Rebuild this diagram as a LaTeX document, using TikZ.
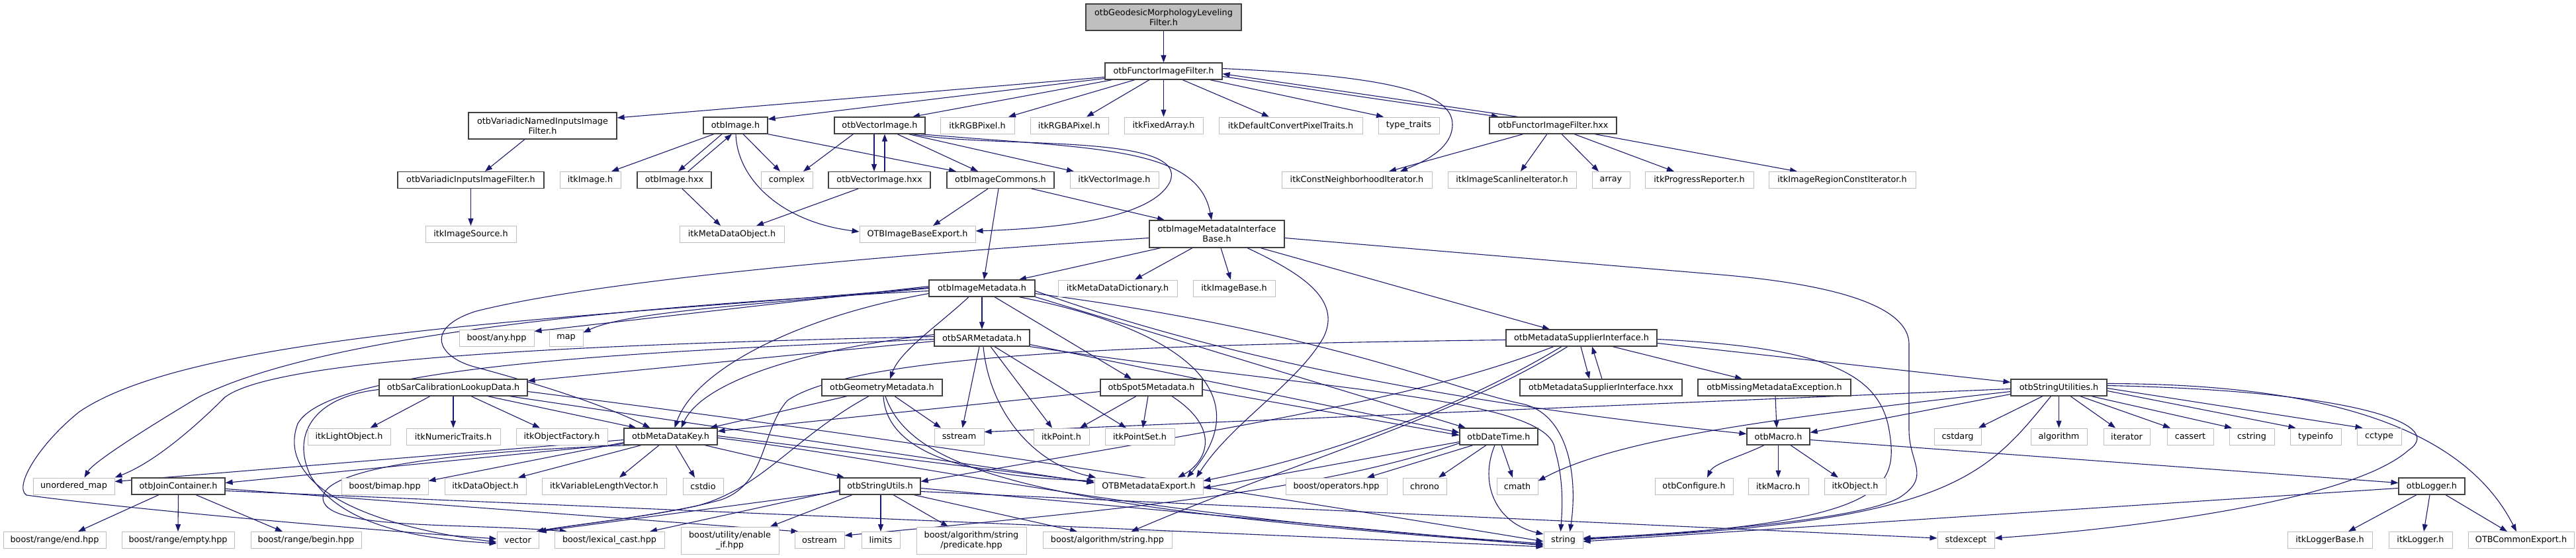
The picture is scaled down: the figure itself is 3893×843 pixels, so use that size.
\documentclass[tikz,border=0pt]{standalone}
\usepackage{fontspec}
\setmainfont{DejaVu Sans}
\usetikzlibrary{arrows.meta}
\definecolor{edgec}{HTML}{191970}
\definecolor{docb}{HTML}{404040}
\definecolor{extb}{HTML}{BFBFBF}
\definecolor{rootf}{HTML}{BFBFBF}
\pgfdeclarelayer{bg}
\pgfsetlayers{bg,main}
\newcommand{\Edn}[4]{\draw[edge] ([xshift=#2pt]#1.south) -- ([xshift=#4pt]#3.north);}
\begin{document}
\begin{tikzpicture}[x=1pt,y=-1pt,
 box/.style={rectangle, inner sep=0pt, minimum height=25pt, align=center, font=\fontsize{12.8}{15}\selectfont},
 doc/.style={box, draw=docb, line width=1.2pt, fill=white},
 ext/.style={box, draw=extb, line width=1pt, fill=white},
 rootbox/.style={box, draw=docb, line width=1.2pt, fill=rootf},
 edge/.style={draw=edgec, line width=1.1pt, -{Triangle[length=11pt,width=8pt]}}]
\useasboundingbox (0,0) rectangle (3893,843);
% row 0-1
\node[rootbox, minimum width=235pt, minimum height=40pt] (root) at (1758.5,26) {otbGeodesicMorphologyLeveling\\Filter.h};
\node[doc, minimum width=177pt] (functor) at (1758.5,107.5) {otbFunctorImageFilter.h};
% row 2
\node[doc, minimum width=224pt, minimum height=40pt] (varNamed) at (820,190) {otbVariadicNamedInputsImage\\Filter.h};
\node[doc, minimum width=97pt] (otbImage) at (1111.5,189.5) {otbImage.h};
\node[doc, minimum width=137pt] (vecImage) at (1329.5,189.5) {otbVectorImage.h};
\node[ext, minimum width=112pt] (rgb) at (1477,189.5) {itkRGBPixel.h};
\node[ext, minimum width=118pt] (rgba) at (1616,189.5) {itkRGBAPixel.h};
\node[ext, minimum width=119pt] (fixed) at (1758.5,189.5) {itkFixedArray.h};
\node[ext, minimum width=217pt] (defconv) at (1950.5,189.5) {itkDefaultConvertPixelTraits.h};
\node[ext, minimum width=92pt] (typetraits) at (2129,189.5) {type\_traits};
\node[doc, minimum width=192pt] (functorhxx) at (2347,189.5) {otbFunctorImageFilter.hxx};
% row 3
\node[doc, minimum width=221pt] (varInputs) at (711.5,272) {otbVariadicInputsImageFilter.h};
\node[ext, minimum width=92pt] (itkImage) at (892,272) {itkImage.h};
\node[doc, minimum width=112pt] (imagehxx) at (1019,272) {otbImage.hxx};
\node[ext, minimum width=78pt] (complex) at (1189,272) {complex};
\node[doc, minimum width=154pt] (vechxx) at (1329,272) {otbVectorImage.hxx};
\node[doc, minimum width=162pt] (commons) at (1512,272) {otbImageCommons.h};
\node[ext, minimum width=134pt] (itkVecImage) at (1684,272) {itkVectorImage.h};
\node[ext, minimum width=227pt] (constNbh) at (2050.5,272) {itkConstNeighborhoodIterator.h};
\node[ext, minimum width=194pt] (scanline) at (2285,272) {itkImageScanlineIterator.h};
\node[ext, minimum width=57pt] (array) at (2434.5,272) {array};
\node[ext, minimum width=164pt] (progress) at (2568,272) {itkProgressReporter.h};
\node[ext, minimum width=222pt] (regionConst) at (2784,272) {itkImageRegionConstIterator.h};
% row 4
\node[ext, minimum width=137pt] (imgSource) at (711.5,354) {itkImageSource.h};
\node[ext, minimum width=158pt] (mdObject) at (1106,354) {itkMetaDataObject.h};
\node[ext, minimum width=175pt] (baseExport) at (1386.5,354) {OTBImageBaseExport.h};
\node[doc, minimum width=204pt, minimum height=41pt] (imib) at (1839,353.5) {otbImageMetadataInterface\\Base.h};
% row 5
\node[doc, minimum width=160pt] (imgMeta) at (1484,435.5) {otbImageMetadata.h};
\node[ext, minimum width=180pt] (mdDict) at (1689,435.5) {itkMetaDataDictionary.h};
\node[ext, minimum width=124pt] (imgBase) at (1865,435.5) {itkImageBase.h};
% row 6
\node[ext, minimum width=113pt] (anyhpp) at (750.5,510.5) {boost/any.hpp};
\node[ext, minimum width=51pt] (map) at (855.5,510.5) {map};
\node[doc, minimum width=144pt] (sar) at (1484,510.5) {otbSARMetadata.h};
\node[doc, minimum width=228pt] (supplier) at (2390,510.5) {otbMetadataSupplierInterface.h};
% row 7
\node[doc, minimum width=224pt] (sarCalib) at (685,585.5) {otbSarCalibrationLookupData.h};
\node[doc, minimum width=182pt] (geom) at (1333,585.5) {otbGeometryMetadata.h};
\node[doc, minimum width=154pt] (spot5) at (1740,585.5) {otbSpot5Metadata.h};
\node[doc, minimum width=245pt] (supplierhxx) at (2419.5,585.5) {otbMetadataSupplierInterface.hxx};
\node[doc, minimum width=231pt] (missing) at (2681.5,585.5) {otbMissingMetadataException.h};
\node[doc, minimum width=145pt] (strUtilities) at (3111.5,585.5) {otbStringUtilities.h};
% row 8
\node[ext, minimum width=125pt] (lightObj) at (527.5,659.5) {itkLightObject.h};
\node[ext, minimum width=142pt] (numTraits) at (685,659.5) {itkNumericTraits.h};
\node[ext, minimum width=138pt] (objFactory) at (849,659.5) {itkObjectFactory.h};
\node[doc, minimum width=141pt] (mdKey) at (1013.5,659.5) {otbMetaDataKey.h};
\node[ext, minimum width=75pt] (sstream) at (1449.5,659.5) {sstream};
\node[ext, minimum width=84pt] (point) at (1604,659.5) {itkPoint.h};
\node[ext, minimum width=105pt] (pointSet) at (1722.5,659.5) {itkPointSet.h};
\node[doc, minimum width=118pt] (dateTime) at (2265,659.5) {otbDateTime.h};
\node[doc, minimum width=95pt] (macro) at (2687.5,659.5) {otbMacro.h};
\node[ext, minimum width=71pt] (cstdarg) at (2958.5,659.5) {cstdarg};
\node[ext, minimum width=85pt] (algorithm) at (3111.5,659.5) {algorithm};
\node[ext, minimum width=70pt] (iterator) at (3214,659.5) {iterator};
\node[ext, minimum width=70pt] (cassert) at (3310,659.5) {cassert};
\node[ext, minimum width=68pt] (cstring) at (3403,659.5) {cstring};
\node[ext, minimum width=77pt] (typeinfo) at (3499.5,659.5) {typeinfo};
\node[ext, minimum width=67pt] (cctype) at (3595.5,659.5) {cctype};
% row 9
\node[ext, minimum width=123pt] (unorderedMap) at (111.5,734.5) {unordered\_map};
\node[doc, minimum width=141pt] (joinCont) at (269.5,734.5) {otbJoinContainer.h};
\node[ext, minimum width=131pt] (bimap) at (581.5,734.5) {boost/bimap.hpp};
\node[ext, minimum width=123pt] (dataObj) at (733.5,734.5) {itkDataObject.h};
\node[ext, minimum width=188pt] (varLenVec) at (913,734.5) {itkVariableLengthVector.h};
\node[ext, minimum width=61pt] (cstdio) at (1062.5,734.5) {cstdio};
\node[doc, minimum width=122pt] (strUtils) at (1330,734.5) {otbStringUtils.h};
\node[ext, minimum width=164pt] (mdExport) at (1736,734.5) {OTBMetadataExport.h};
\node[ext, minimum width=153pt] (operators) at (2019.5,734.5) {boost/operators.hpp};
\node[ext, minimum width=66pt] (chrono) at (2153,734.5) {chrono};
\node[ext, minimum width=62pt] (cmath) at (2293,734.5) {cmath};
\node[ext, minimum width=118pt] (configure) at (2560,734.5) {otbConfigure.h};
\node[ext, minimum width=91pt] (itkMacro) at (2687.5,734.5) {itkMacro.h};
\node[ext, minimum width=93pt] (itkObject) at (2803.5,734.5) {itkObject.h};
\node[doc, minimum width=100pt] (logger) at (3675,734.5) {otbLogger.h};
% row 10
\node[ext, minimum width=155pt] (rangeEnd) at (82.5,816) {boost/range/end.hpp};
\node[ext, minimum width=170pt] (rangeEmpty) at (269,816) {boost/range/empty.hpp};
\node[ext, minimum width=167pt] (rangeBegin) at (462.5,816) {boost/range/begin.hpp};
\node[ext, minimum width=63pt] (vector) at (782.5,816) {vector};
\node[ext, minimum width=166pt] (lexical) at (921,816) {boost/lexical\_cast.hpp};
\node[ext, minimum width=148pt, minimum height=41pt] (enableIf) at (1103,816.5) {boost/utility/enable\\\_if.hpp};
\node[ext, minimum width=75pt] (ostream) at (1238.5,816) {ostream};
\node[ext, minimum width=58pt] (limits) at (1331,816) {limits};
\node[ext, minimum width=166pt, minimum height=41pt] (predicate) at (1468,816.5) {boost/algorithm/string\\/predicate.hpp};
\node[ext, minimum width=195pt] (algString) at (1673.5,816) {boost/algorithm/string.hpp};
\node[ext, minimum width=59pt] (string) at (2362.5,816) {string};
\node[ext, minimum width=86pt] (stdexcept) at (2971,816) {stdexcept};
\node[ext, minimum width=128pt] (loggerBase) at (3521,816) {itkLoggerBase.h};
\node[ext, minimum width=96pt] (itkLogger) at (3658,816) {itkLogger.h};
\node[ext, minimum width=160pt] (commonExport) at (3810,816) {OTBCommonExport.h};

\begin{pgfonlayer}{bg}
% top
\Edn{root}{0}{functor}{0}
\draw[edge] ([yshift=-9pt]functor.west) -- ([yshift=12pt]varNamed.east);
\draw[edge] ([yshift=-11pt]functor.west) -- ([yshift=9.5pt]otbImage.east);
\Edn{functor}{-77.5}{vecImage}{49.5}
\Edn{functor}{-43.5}{rgb}{47}
\Edn{functor}{-21.5}{rgba}{26}
\Edn{functor}{0}{fixed}{0}
\Edn{functor}{28.5}{defconv}{-32.5}
\Edn{functor}{70}{typetraits}{-38}
\draw[edge] ([yshift=-8pt]functor.east) -- ([xshift=-82pt]functorhxx.north);
\draw[edge] ([xshift=-53pt]functorhxx.north) -- ([yshift=-4pt]functor.east);
\draw[edge] ([yshift=4pt]functor.east) .. controls (2100,115) and (2195,140) .. (2195,188) .. controls (2195,225) and (2150,245) .. ([xshift=65.5pt]constNbh.north);
% hxx
\Edn{functorhxx}{-45}{constNbh}{48.5}
\Edn{functorhxx}{-9}{scanline}{13}
\Edn{functorhxx}{13}{array}{-18.5}
\Edn{functorhxx}{32}{progress}{-38}
\Edn{functorhxx}{63}{regionConst}{-68}
% row 2 -> 3
\Edn{varNamed}{-27}{varInputs}{21.5}
\Edn{varInputs}{0}{imgSource}{0}
\Edn{otbImage}{-32.5}{itkImage}{32}
\Edn{otbImage}{-20.5}{imagehxx}{6}
\draw[edge] ([xshift=21pt]imagehxx.north) -- ([xshift=-5.5pt]otbImage.south);
\Edn{otbImage}{11.5}{complex}{-10}
\draw[edge] (otbImage.south east) -- ([xshift=-67pt]commons.north);
\draw[edge] ([xshift=0.5pt]otbImage.south) .. controls (1114,270) and (1180,335) .. ([yshift=4pt]baseExport.west);
\Edn{imagehxx}{12}{mdObject}{-17}
\Edn{vecImage}{-40}{complex}{25}
\Edn{vecImage}{-8.5}{vechxx}{-8}
\draw[edge] ([xshift=8pt]vechxx.north) -- ([xshift=7.5pt]vecImage.south);
\Edn{vecImage}{26.5}{commons}{-34}
\Edn{vecImage}{43.5}{itkVecImage}{-61}
\draw[edge] ([xshift=49.5pt]vecImage.south) .. controls (1500,225) and (1800,200) .. (1768,275) .. controls (1740,330) and (1600,345) .. ([yshift=5pt]baseExport.east);
\draw[edge] ([xshift=61.5pt]vecImage.south) .. controls (1650,225) and (1810,220) .. ([xshift=-8pt]imib.north);
\Edn{vechxx}{-32}{mdObject}{37}
\Edn{commons}{-19}{baseExport}{23.5}
\Edn{commons}{-3}{imgMeta}{3}
\Edn{commons}{47}{imib}{-79}
% imib
\Edn{imib}{-85}{imgMeta}{56}
\Edn{imib}{-37}{mdDict}{26}
\Edn{imib}{6}{imgBase}{-5}
\draw[edge] ([yshift=-6pt]imib.west) .. controls (1300,388) and (900,425) .. (720,470) .. controls (640,495) and (660,540) .. (720,555) .. controls (850,590) and (930,620) .. ([xshift=-31pt]mdKey.north);
\draw[edge] ([xshift=46pt]imib.south) .. controls (1960,410) and (2030,450) .. (2000,510) .. controls (1960,580) and (1860,640) .. ([xshift=72pt]mdExport.north);
\Edn{imib}{66}{supplier}{-48}
\draw[edge] ([yshift=-6pt]imib.east) -- (2600,415) .. controls (2800,432) and (2885,470) .. (2885,520) -- (2885,650) .. controls (2885,700) and (2920,720) .. (2870,752) .. controls (2800,790) and (2500,808) .. ([yshift=3pt]string.east);
% supplier
\Edn{supplier}{-1}{supplierhxx}{-17.5}
\draw[edge] ([xshift=1.5pt]supplierhxx.north) -- ([xshift=16pt]supplier.south);
\Edn{supplier}{47}{missing}{-48.5}
\draw[edge] ([yshift=-8pt]supplier.east) -- ([yshift=8pt]strUtilities.west);
\draw[edge] ([yshift=-2pt]supplier.east) .. controls (2750,525) and (2840,560) .. (2855,650) .. controls (2870,740) and (2850,790) .. ([yshift=1pt]string.east);
\draw[edge] ([xshift=-42pt]supplier.south) .. controls (2150,600) and (1900,640) .. ([yshift=7pt]strUtils.east);
\draw[edge] ([xshift=-30pt]supplier.south) .. controls (2200,620) and (2000,690) .. ([yshift=8pt]mdExport.east);
\draw[edge] ([xshift=-21pt]supplier.south) .. controls (2200,630) and (1950,700) .. ([xshift=36pt]algString.north);
\draw[edge] ([yshift=-3pt]supplier.west) .. controls (1800,520) and (1300,530) .. (1190,605) .. controls (1150,650) and (1160,730) .. (1090,755) .. controls (1000,780) and (880,790) .. (vector.north east);
% imgMeta
\Edn{imgMeta}{0}{sar}{0}
\draw[edge] ([xshift=-20pt]imgMeta.south) .. controls (1420,490) and (1360,530) .. ([xshift=12pt]geom.north);
\Edn{imgMeta}{19}{spot5}{-30}
\draw[edge] ([xshift=56pt]imgMeta.south) .. controls (1800,500) and (1900,600) .. ([xshift=58pt]mdExport.north);
\draw[edge] ([yshift=-8pt]imgMeta.east) .. controls (2000,500) and (2200,590) .. (2300,610) .. controls (2370,625) and (2385,720) .. ([xshift=10pt]string.north);
\draw[edge] (imgMeta.south east) -- ([xshift=-50pt]dateTime.north);
\draw[edge] ([yshift=-4pt]imgMeta.east) .. controls (1900,560) and (2300,620) .. ([yshift=4pt]macro.west);
\draw[edge] ([yshift=3pt]imgMeta.west) -- ([yshift=10pt]anyhpp.east);
\draw[edge] (imgMeta.west) .. controls (1150,460) and (950,470) .. ([yshift=8pt]map.east);
\draw[edge] ([yshift=-8pt]imgMeta.west) .. controls (1200,480) and (1050,560) .. ([xshift=6pt]mdKey.north);
\draw[edge] ([yshift=-4pt]imgMeta.west) .. controls (1000,460) and (500,500) .. (300,600) .. controls (200,660) and (140,700) .. ([xshift=16pt]unorderedMap.north);
\draw[edge] ([yshift=1pt]imgMeta.west) .. controls (900,480) and (300,500) .. (120,622) .. controls (60,670) and (20,735) .. (40,748) .. controls (200,770) and (550,800) .. ([yshift=2pt]vector.west);
% sar
\Edn{sar}{-4}{sstream}{5}
\draw[edge] ([xshift=2pt]sar.south) .. controls (1495,620) and (1560,700) .. ([xshift=-80pt]mdExport.north);
\Edn{sar}{13}{point}{-14}
\Edn{sar}{19}{pointSet}{-20.5}
\draw[edge] ([yshift=-10pt]sar.east) -- ([yshift=6pt]dateTime.west);
\draw[edge] (sar.south east) .. controls (2000,590) and (2345,600) .. (2350,680) .. controls (2365,730) and (2360,780) .. ([xshift=-4pt]string.north);
\draw[edge] ([yshift=5pt]sar.west) .. controls (1200,530) and (1060,580) .. ([xshift=16pt]mdKey.north);
\draw[edge] ([yshift=-5pt]sar.west) -- ([yshift=10pt]sarCalib.east);
\draw[edge] ([yshift=2pt]sar.west) .. controls (900,520) and (420,540) .. (340,600) .. controls (290,650) and (230,700) .. (unorderedMap.north east);
\draw[edge] ([yshift=-2pt]sar.west) .. controls (1000,530) and (500,550) .. (450,640) .. controls (420,720) and (520,790) .. ([yshift=-3pt]vector.west);
% sarCalib
\Edn{sarCalib}{-35}{lightObj}{32}
\Edn{sarCalib}{0}{numTraits}{0}
\Edn{sarCalib}{27}{objFactory}{-33}
\Edn{sarCalib}{52}{mdKey}{-52}
\draw[edge] ([yshift=-3pt]sarCalib.west) .. controls (470,600) and (440,660) .. (470,720) .. controls (520,800) and (650,815) .. ([yshift=-5pt]vector.west);
\draw[edge] ([xshift=85pt]sarCalib.south) -- ([yshift=5pt]mdExport.west);
\draw[edge] ([yshift=-6pt]sarCalib.east) .. controls (1300,655) and (1800,730) .. ([yshift=-2pt]string.west);
% mdKey
\Edn{mdKey}{-44.5}{dataObj}{49.5}
\Edn{mdKey}{-17.5}{varLenVec}{23}
\Edn{mdKey}{7.5}{cstdio}{-12.5}
\Edn{mdKey}{51.5}{strUtils}{-54}
\draw[edge] ([yshift=-9pt]mdKey.west) -- ([yshift=8pt]bimap.east);
\draw[edge] ([yshift=-11pt]mdKey.west) -- ([yshift=5pt]joinCont.east);
\draw[edge] ([yshift=-5pt]mdKey.west) -- ([yshift=7pt]unorderedMap.east);
\draw[edge] ([xshift=-60pt]mdKey.south) .. controls (600,685) and (470,720) .. (490,760) .. controls (510,800) and (700,790) .. ([xshift=-64pt]lexical.north);
\draw[edge] ([yshift=-2pt]mdKey.east) .. controls (1400,700) and (1700,780) .. ([yshift=-5pt]string.west);
\draw[edge] ([yshift=1pt]mdKey.east) -- ([yshift=6pt]mdExport.west);
% spot5
\Edn{spot5}{-23}{point}{28}
\Edn{spot5}{-5}{pointSet}{4.5}
\draw[edge] ([xshift=31pt]spot5.south) .. controls (1850,650) and (1820,700) .. ([xshift=44pt]mdExport.north);
\draw[edge] ([yshift=-3pt]spot5.east) -- ([yshift=2pt]dateTime.west);
\draw[edge] ([yshift=-6pt]spot5.west) -- ([yshift=8pt]mdKey.east);
% geom
\Edn{geom}{-53}{mdKey}{59.5}
\Edn{geom}{19}{sstream}{-27.5}
\draw[edge] ([xshift=2pt]geom.south) .. controls (1340,680) and (1450,720) .. ([yshift=8pt]mdExport.west);
\draw[edge] ([xshift=5pt]geom.south) .. controls (1380,720) and (1600,770) .. ([yshift=-7pt]string.west);
\draw[edge] ([xshift=-20pt]geom.south) .. controls (1200,660) and (1150,740) .. (1050,765) .. controls (950,785) and (850,795) .. ([xshift=28pt]vector.north);
% strUtils
\Edn{strUtils}{1}{limits}{0}
\Edn{strUtils}{20}{predicate}{-35}
\Edn{strUtils}{51}{algString}{-45.5}
\draw[edge] ([yshift=-8pt]strUtils.west) -- (vector.north east);
\draw[edge] ([yshift=-6pt]strUtils.west) -- ([xshift=61pt]lexical.north);
\Edn{strUtils}{-42}{enableIf}{61}
\draw[edge] ([yshift=-3pt]strUtils.east) -- ([yshift=-8pt]string.west);
\draw[edge] ([yshift=-8pt]strUtils.east) -- ([yshift=3pt]stdexcept.west);
% dateTime
\Edn{dateTime}{-39}{operators}{46.5}
\Edn{dateTime}{-19}{chrono}{21}
\Edn{dateTime}{4}{cmath}{-7}
\draw[edge] ([xshift=-6pt]dateTime.south) .. controls (2235,730) and (2260,790) .. ([yshift=9pt]string.west);
\draw[edge] ([yshift=-8pt]dateTime.west) -- ([yshift=-3pt]mdExport.east);
\draw[edge] ([yshift=-10pt]dateTime.west) .. controls (2000,740) and (1700,770) .. ([yshift=7pt]ostream.east);
% strUtilities
\Edn{strUtilities}{-24.5}{cstdarg}{31.5}
\Edn{strUtilities}{0}{algorithm}{0}
\Edn{strUtilities}{17.5}{iterator}{-17}
\Edn{strUtilities}{32}{cassert}{-30}
\Edn{strUtilities}{49}{cstring}{-30}
\draw[edge] ([yshift=-5pt]strUtilities.east) -- ([xshift=-30pt]typeinfo.north);
\draw[edge] ([yshift=-1pt]strUtilities.east) -- ([xshift=-25pt]cctype.north);
\draw[edge] ([yshift=6pt]strUtilities.east) .. controls (3500,580) and (3720,640) .. ([xshift=-7pt]commonExport.north);
\draw[edge] ([yshift=3pt]strUtilities.east) .. controls (3550,590) and (3700,640) .. (3640,680) .. controls (3550,760) and (3200,800) .. ([yshift=3pt]stdexcept.east);
\draw[edge] ([xshift=-12pt]strUtilities.south) .. controls (3000,720) and (2950,790) .. ([yshift=2pt]string.east);
\draw[edge] ([yshift=-10pt]strUtilities.west) -- ([yshift=6pt]macro.east);
\draw[edge] ([yshift=-6pt]strUtilities.west) .. controls (2700,630) and (2450,660) .. ([yshift=8pt]cmath.east);
\draw[edge] ([yshift=-2pt]strUtilities.west) -- ([yshift=7pt]sstream.east);
% macro
\draw[edge] ([xshift=-21.5pt]macro.south) .. controls (2630,690) and (2590,700) .. ([xshift=20pt]configure.north);
\Edn{macro}{0}{itkMacro}{0}
\Edn{macro}{18.5}{itkObject}{-25.5}
\draw[edge] ([yshift=-5pt]macro.east) -- ([yshift=5pt]logger.west);
\Edn{missing}{1.5}{macro}{-2.5}
% logger
\Edn{logger}{-23}{loggerBase}{28}
\Edn{logger}{-3}{itkLogger}{5}
\Edn{logger}{21}{commonExport}{-21}
\draw[edge] ([yshift=-3pt]logger.west) -- ([yshift=-2pt]string.east);
% joinCont
\Edn{joinCont}{-29.5}{rangeEnd}{35.5}
\Edn{joinCont}{0}{rangeEmpty}{0}
\Edn{joinCont}{26.5}{rangeBegin}{-35.5}
\draw[edge] ([yshift=-4pt]joinCont.east) -- ([xshift=-32pt]ostream.north);
\draw[edge] ([yshift=-7pt]joinCont.east) -- ([yshift=-10pt]string.west);
\end{pgfonlayer}
\end{tikzpicture}
\end{document}
